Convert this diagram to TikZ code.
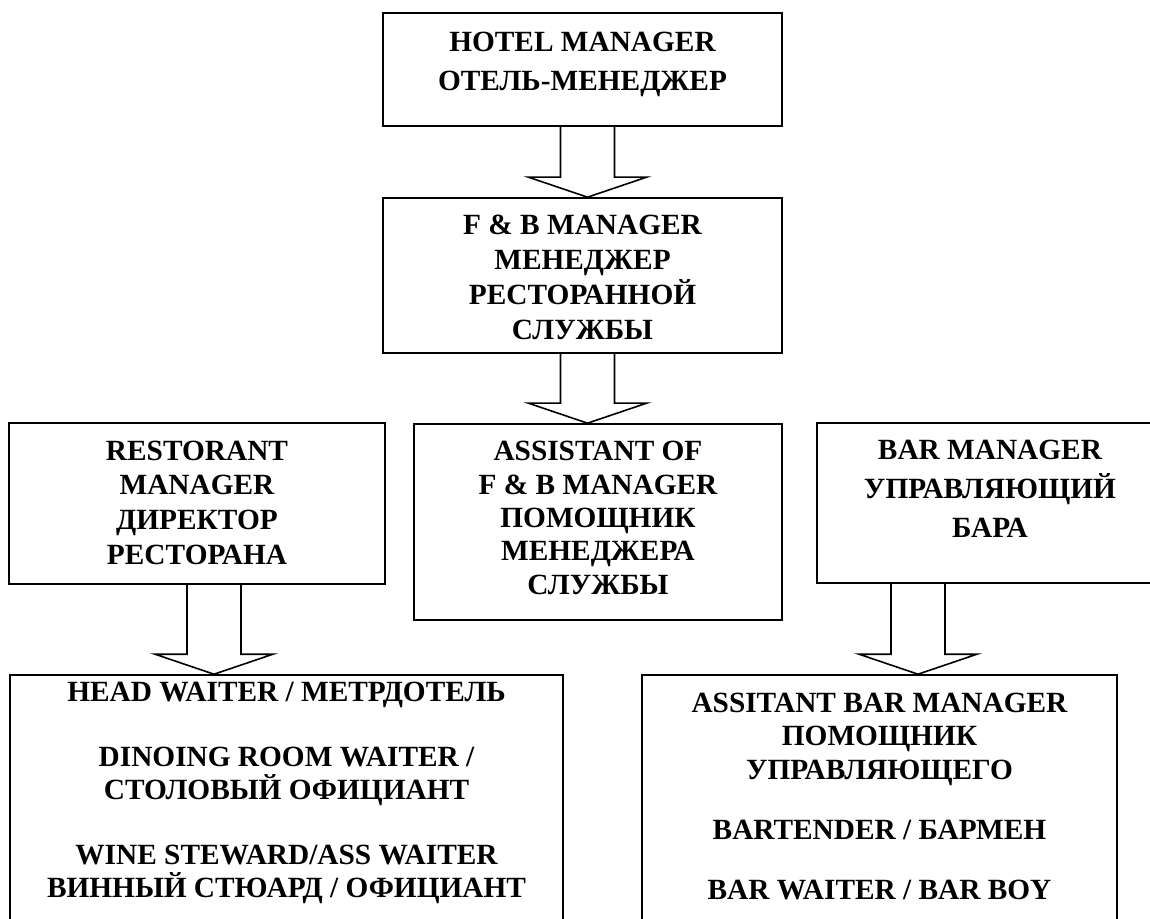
\documentclass[tikz,border=0pt]{standalone}
\usepackage{fontspec}
\setmainfont{Liberation Serif}
\usetikzlibrary{calc}

% block arrow from one box down to the next (x offset in px)
\newcommand{\blockarrow}[3]{%
  \coordinate (bs) at ($(#1.south)+(#3,0)$);
  \coordinate (bt) at (bs |- #2.north);
  \draw[line width=1.2pt, line join=miter] ($(bs)+(-27,0)$) -- ($(bt)+(-27,-20)$) -- ($(bt)+(-59,-20)$)
    -- (bt) -- ($(bt)+(59,-20)$) -- ($(bt)+(27,-20)$) -- ($(bs)+(27,0)$);
}

\begin{document}
\begin{tikzpicture}[x=0.75pt, y=-0.75pt,
  box/.style 2 args={draw, line width=1.2pt, inner sep=0pt, minimum width=#1, minimum height=#2},
  lbl/.style={align=center, anchor=base, font=\bfseries\fontsize{22}{#1}\selectfont}]
  \useasboundingbox (0,0) rectangle (1150,919);

  % boxes
  \node[box={299.25pt}{84.75pt}] (hotel) at (582.5,69.5) {};
  \node[box={299.25pt}{116.25pt}] (fb) at (582.5,275.5) {};
  \node[box={282pt}{120.75pt}] (rest) at (197,503.5) {};
  \node[box={276pt}{147pt}] (asst) at (598,522) {};
  \node[box={259.5pt}{120pt}] (bar) at (990,503) {};
  \node[box={414.75pt}{195pt}] (hwait) at (286.5,805) {};
  \node[box={356.25pt}{195pt}] (bstaff) at (879.5,805) {};

  % texts (placed by the baseline of their last line)
  \node[lbl=29.25] (hoteltxt) at ($(hotel.north)+(0,78)$)
    {HOTEL MANAGER\\ОТЕЛЬ-МЕНЕДЖЕР};
  \node[lbl=26.25] (fbtxt) at ($(fb.north)+(0,142)$)
    {F \& B MANAGER\\МЕНЕДЖЕР\\РЕСТОРАННОЙ\\СЛУЖБЫ};
  \node[lbl=26] (resttxt) at ($(rest.north)+(0,142)$)
    {RESTORANT\\MANAGER\\ДИРЕКТОР\\РЕСТОРАНА};
  \node[lbl=25] (assttxt) at ($(asst.north)+(0,171)$)
    {ASSISTANT OF\\F \& B MANAGER\\ПОМОЩНИК\\МЕНЕДЖЕРА\\СЛУЖБЫ};
  \node[lbl=29] (bartxt) at ($(bar.north)+(0,115)$)
    {BAR MANAGER\\УПРАВЛЯЮЩИЙ\\БАРА};
  \node[lbl=24.75] (hwaittxt) at ($(hwait.north)+(0,223)$)
    {HEAD WAITER / МЕТРДОТЕЛЬ\\[24pt]DINOING ROOM WAITER /\\СТОЛОВЫЙ ОФИЦИАНТ\\[24pt]WINE STEWARD/ASS WAITER\\ВИННЫЙ СТЮАРД / ОФИЦИАНТ};
  \node[lbl=25] (bstafftxt) at ($(bstaff.north)+(0,225)$)
    {ASSITANT BAR MANAGER\\ПОМОЩНИК\\УПРАВЛЯЮЩЕГО\\[20pt]BARTENDER / БАРМЕН\\[20pt]BAR WAITER / BAR BOY};

  % arrows
  \blockarrow{hotel}{fb}{5}
  \blockarrow{fb}{asst}{5}
  \blockarrow{rest}{hwait}{17}
  \blockarrow{bar}{bstaff}{-72}
\end{tikzpicture}
\end{document}
